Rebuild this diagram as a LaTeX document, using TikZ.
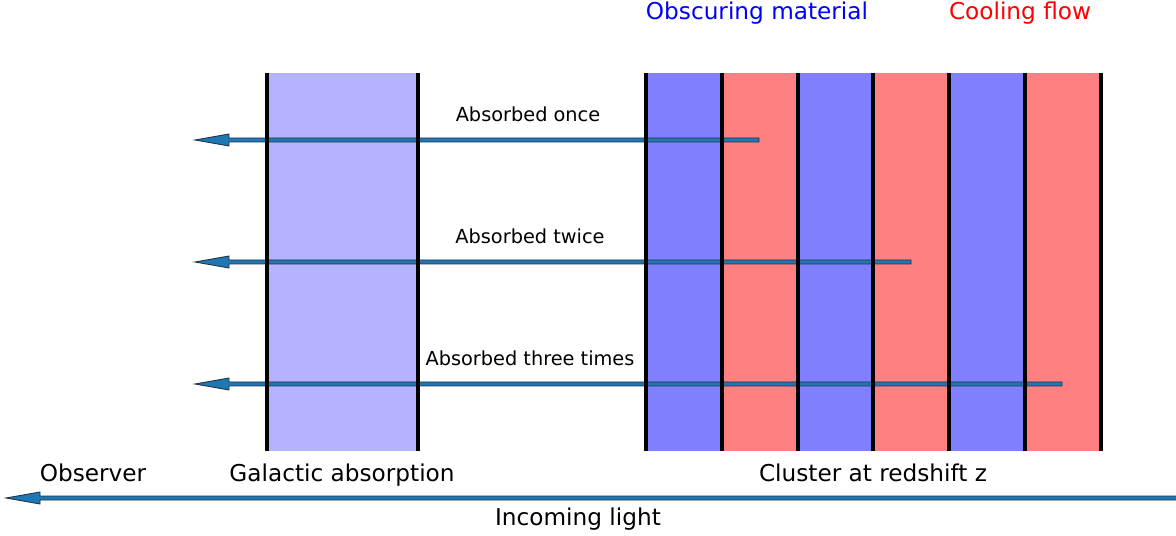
\documentclass[tikz,border=0pt]{standalone}
\usepackage{fontspec}
\setmainfont{DejaVu Sans}
\usepackage{tikz}
\usetikzlibrary{calc,positioning}

\definecolor{galblue}{RGB}{179,179,255}
\definecolor{obsblue}{RGB}{128,128,255}
\definecolor{coolred}{RGB}{255,128,128}
\definecolor{raycol}{RGB}{31,119,180}
\definecolor{rayedge}{RGB}{35,50,70}

\tikzset{
	bigtext/.style={font=\fontsize{13.2}{15}\selectfont, anchor=base},
	smalltext/.style={font=\fontsize{11}{13}\selectfont, anchor=base},
	slab/.style={line width=2pt, black},
	ray/.style={fill=raycol, draw=rayedge, line width=0.5pt},
}

\begin{document}
\begin{tikzpicture}[x=0.02cm, y=-0.02cm]
			\useasboundingbox (0,0) rectangle (1176,536);

			% galactic absorption slab
			\fill[galblue] (267,73) rectangle (418,451);

			% cluster: obscuring material and cooling flow
			\foreach \xa/\xb/\col in {646/722/obsblue, 722/798/coolred, 798/873/obsblue, 873/949/coolred, 949/1025/obsblue, 1025/1101/coolred}
				\fill[\col] (\xa,73) rectangle (\xb,451);

			% rays
			\foreach \yy/\xe in {140/759, 262/911, 384/1062}
				\filldraw[ray] (195,\yy) -- (229,\yy-6) -- (229,\yy-2) -- (\xe,\yy-2) -- (\xe,\yy+2) -- (229,\yy+2) -- (229,\yy+6) -- cycle;
			\filldraw[ray] (6,498) -- (40,492) -- (40,496) -- (1180,496) -- (1180,500) -- (40,500) -- (40,504) -- cycle;

			\foreach \xx in {267,418,646,722,798,873,949,1025,1101}
				\draw[slab] (\xx,73) -- (\xx,451);

			\node[bigtext, text=blue] (obscuring) at (757,20) {Obscuring material};
			\node[bigtext, text=red] (cooling) at (1020,20) {Cooling flow};

			\node[smalltext] (once) at (528,122) {Absorbed once};
			\node[smalltext] (twice) at (530,244) {Absorbed twice};
			\node[smalltext] (three) at (530,366) {Absorbed three times};

			\node[bigtext] (observer) at (93,481) {Observer};
			\node[bigtext] (galactic) at (342,481) {Galactic absorption};
			\node[bigtext] (cluster) at (873,481) {Cluster at redshift z};
			\node[bigtext] (incoming) at (578,525) {Incoming light};
		\end{tikzpicture}
\end{document}
